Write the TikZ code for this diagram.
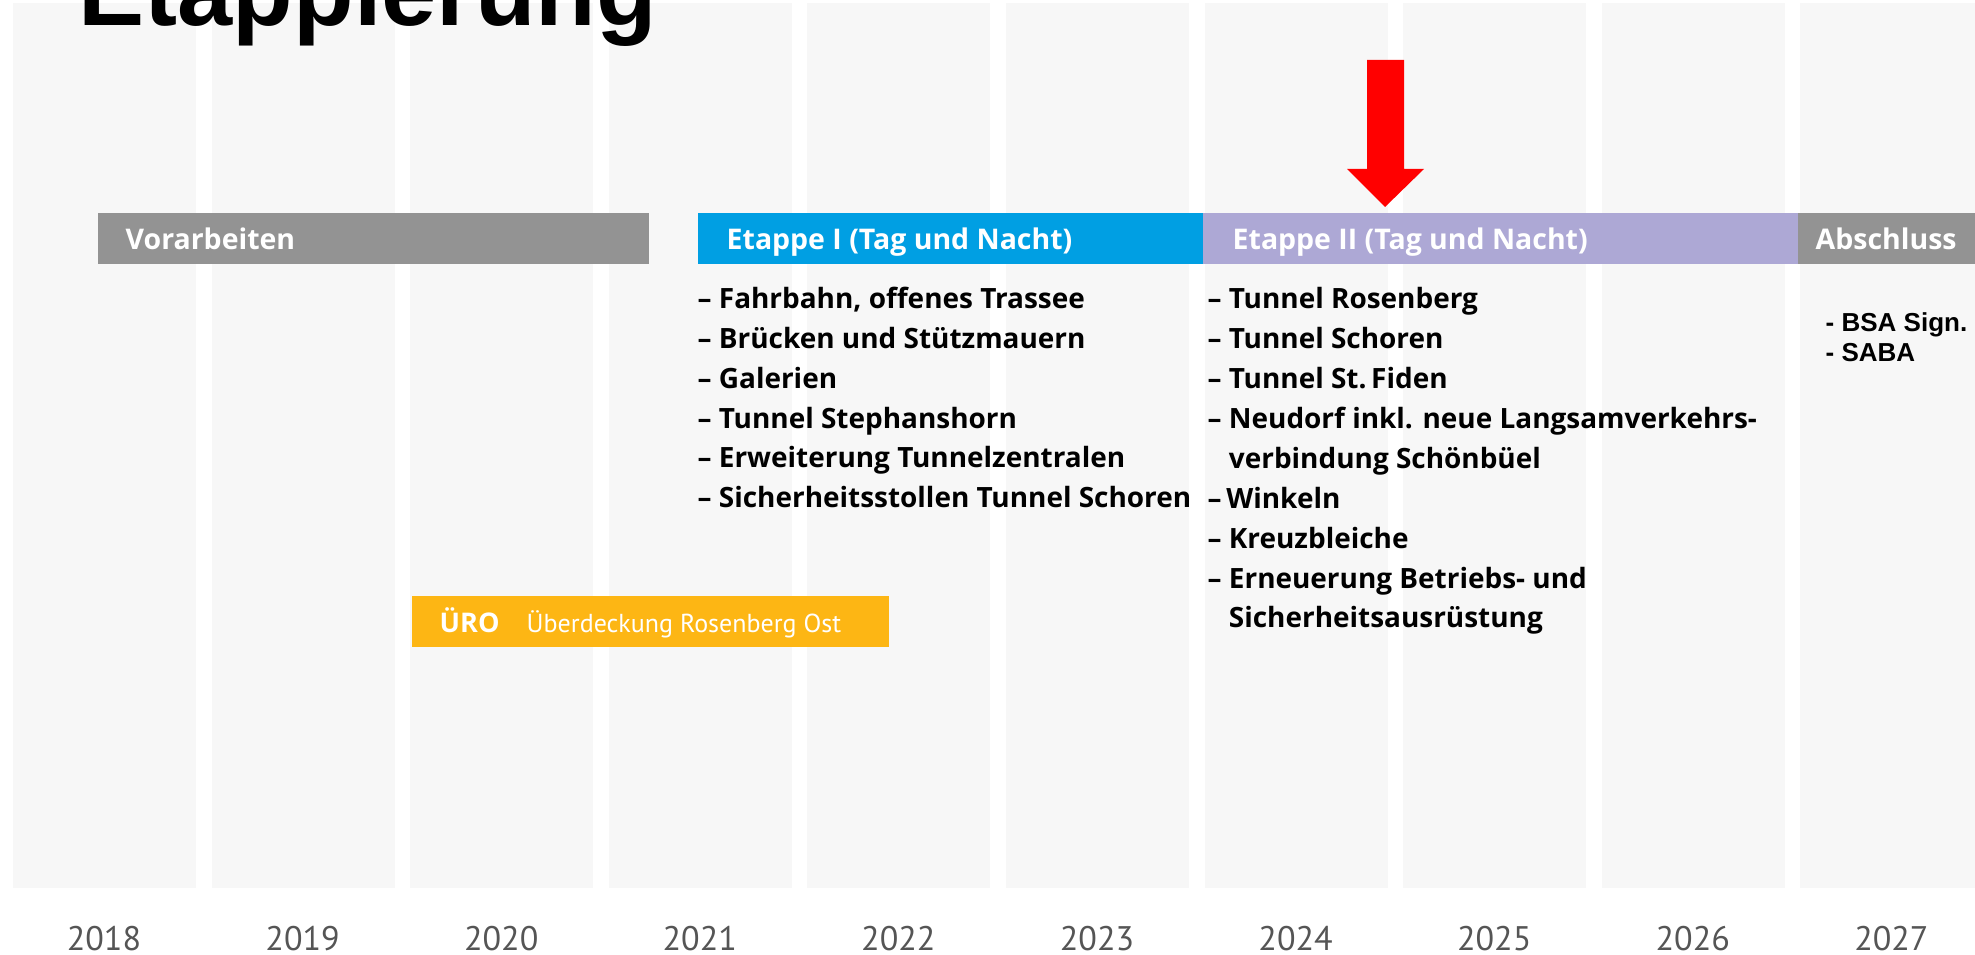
\documentclass[tikz,border=0pt]{standalone}
\usepackage{fontspec}
\setmainfont{Open Sans}
\newfontfamily\ptfont{PT Sans}
\newfontfamily\headfont{Liberation Sans}
\definecolor{colFill}{HTML}{F7F7F7}
\definecolor{prepFill}{HTML}{939393}
\definecolor{stageOneFill}{HTML}{009FE3}
\definecolor{stageTwoFill}{HTML}{ADA8D5}
\definecolor{uroFill}{HTML}{FDB614}
\definecolor{yearText}{HTML}{555555}
\definecolor{markRed}{HTML}{FF0000}

\begin{document}
\begin{tikzpicture}[
  x=0.1mm, y=-0.1mm,
  yearcol/.style={fill=colFill},
  bar/.style={anchor=north west, inner sep=0pt, outer sep=0pt, minimum height=5.1mm},
  barlabel/.style={anchor=base west, inner sep=0pt, text=white,
    font=\bfseries\fontsize{8.1pt}{9.7pt}\selectfont},
  itemlist/.style={anchor=base west, align=left, inner sep=0pt,
    font=\bfseries\fontsize{7.95pt}{11.38pt}\selectfont},
  yearlabel/.style={anchor=base, inner sep=0pt, text=yearText,
    font=\ptfont\fontsize{9.7pt}{11pt}\selectfont},
  sidenote/.style={anchor=base west, align=left, inner sep=0pt,
    font=\headfont\bfseries\fontsize{7.4pt}{8.54pt}\selectfont},
  title/.style={anchor=base west, inner sep=0pt,
    font=\headfont\bfseries\fontsize{28.2pt}{30pt}\selectfont}
]

\useasboundingbox (0,0) rectangle (1975,955);
\clip (0,0) rectangle (1975,955);
\fill[white] (0,0) rectangle (1975,955);

% =========================================================
% YEAR COLUMNS
% =========================================================

\foreach \yr [count=\i from 0] in {2018,...,2027}{
  \path[yearcol] (13+198.6*\i,3) rectangle ++(183,885);
  \node[yearlabel] (year\yr) at (104+198.6*\i,950) {\yr};
}

\node[title] (title) at (78,26) {Etappierung};

% =========================================================
% PHASE BARS
% =========================================================

\node[bar, fill=prepFill, minimum width=55.1mm] (prepBar) at (98,213) {};
\node[barlabel] (prepText) at (125,250) {Vorarbeiten};

\node[bar, fill=stageOneFill, minimum width=50.5mm] (stageOneBar) at (698,213) {};
\node[barlabel] (stageOneText) at (726,250) {Etappe I (Tag und Nacht)};

\node[bar, fill=stageTwoFill, minimum width=59.5mm] (stageTwoBar) at (1203,213) {};
\node[barlabel] (stageTwoText) at (1232,250) {Etappe II (Tag und Nacht)};

\node[bar, fill=prepFill, minimum width=18mm] (closeBar) at (1798,213) {};
\node[barlabel] (closeText) at (1815,250) {Abschluss};

\node[bar, fill=uroFill, minimum width=47.7mm] (uroBar) at (412,596) {};
\node[barlabel, font=\bfseries\fontsize{7.7pt}{9pt}\selectfont] (uroTag) at (439,633) {ÜRO};
\node[barlabel, font=\ptfont\fontsize{7.4pt}{9pt}\selectfont] (uroText) at (526,633)
{Überdeckung Rosenberg Ost};

% =========================================================
% WORK ITEMS (anchored at the last line)
% =========================================================

\node[itemlist] (stageOneList) at (697,508)
{– Fahrbahn, offenes Trassee\\– Brücken und Stützmauern\\– Galerien\\
 – Tunnel Stephanshorn\\– Erweiterung Tunnelzentralen\\
 – Sicherheitsstollen Tunnel Schoren};

\node[itemlist] (stageTwoList) at (1207,628)
{– Tunnel Rosenberg\\– Tunnel Schoren\\– Tunnel St.\,Fiden\\
 – Neudorf inkl. neue Langsamverkehrs-\\\hphantom{– }verbindung Schönbüel\\
 –\,Winkeln\\– Kreuzbleiche\\– Erneuerung Betriebs- und\\
 \hphantom{– }Sicherheitsausrüstung};

\node[sidenote] (closeList) at (1825,362) {- BSA Sign.\\- SABA};

% current position
\coordinate (arrowTip) at ([xshift=18.2mm, yshift=0.6mm]stageTwoBar.north west);
\fill[markRed] (arrowTip) -- ++(-38,-38) -- ++(20,0) -- ++(0,-109)
  -- ++(37,0) -- ++(0,109) -- ++(20,0) -- cycle;

\end{tikzpicture}
\end{document}
